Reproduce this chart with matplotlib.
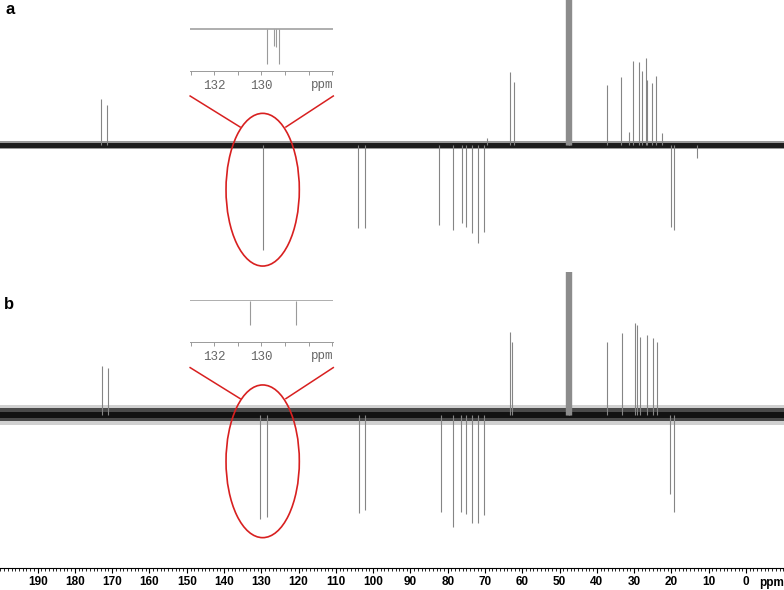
import matplotlib
matplotlib.use("Agg")

import matplotlib.pyplot as plt
from matplotlib.patches import Ellipse
from matplotlib.ticker import MultipleLocator

# ---- data (ppm, signed height in px above baseline) ----
a_ppm = [172.9, 171.3, 129.5, 104.0, 102.2, 82.3, 78.7, 76.2, 75.2, 73.5,
         72.0, 70.2, 69.4, 63.4, 62.3, 37.4, 33.5, 31.5, 30.2, 28.7,
         28.0, 26.9, 26.6, 25.1, 24.1, 22.4, 20.2, 19.3, 13.1]
a_int = [45.7, 40.3, -105.0, -83.3, -82.7, -80.0, -85.0, -77.7, -81.7, -88.0,
         -98.0, -86.7, 7.0, 73.3, 63.3, 60.0, 68.3, 13.3, 84.3, 82.7,
         74.3, 86.7, 65.0, 62.0, 69.3, 12.0, -81.7, -85.0, -13.0]

b_ppm = [172.8, 171.2, 130.4, 128.6, 103.7, 102.1, 81.8, 78.7, 76.4, 75.2,
         73.5, 72.0, 70.4, 63.4, 62.8, 37.2, 33.2, 29.8, 29.2, 28.4,
         26.6, 25.0, 24.0, 20.4, 19.3]
b_int = [49.0, 46.7, -104.3, -102.3, -97.7, -95.0, -96.7, -112.0, -96.7, -99.0,
         -108.0, -108.0, -100.0, 82.7, 72.7, 73.3, 81.7, 91.7, 90.0, 77.7,
         80.0, 76.7, 72.7, -79.0, -96.7]

# CD3OD septet, clipped in both traces
solvent_ppm = [47.0, 47.2, 47.4, 47.6, 47.8, 48.0, 48.2]
solvent_int = [150, 160, 170, 175, 170, 160, 150]

# baseline noise half-widths (px)
a_noise = [(4.0, "#9a9a9a"), (2.5, "#1c1c1c")]
b_noise = [(10.0, "#d0d0d0"), (6.5, "#4a4a4a"), (3.0, "#121212")]

# zoomed insets around 130 ppm
inset_a_ppm = [129.76, 129.48, 129.39, 129.26]
inset_a_depth = [34.7, 16.7, 17.4, 34.7]
inset_b_ppm = [130.47, 128.54]
inset_b_depth = [24.3, 24.3]

# ---- layout ----
W, H = 784, 590
PPM_LEFT, PPM_RIGHT = 200.1, -10.2
PEAK_GRAY = "#858585"
RED = "#d82020"
SCALE_FONT = ["Liberation Sans Narrow", "Liberation Sans", "DejaVu Sans"]
MONO_FONT = ["Liberation Mono", "DejaVu Sans Mono"]


def box(left, top, right, bottom):
    return [left / W, 1 - bottom / H, (right - left) / W, (bottom - top) / H]


def draw_spectrum(ax, ppm, inten, noise):
    for half, color in noise:
        ax.axhspan(-half, half, color=color, lw=0)
    ax.vlines(ppm, 0, inten, colors=PEAK_GRAY, lw=0.8)
    ax.vlines(solvent_ppm, 0, solvent_int, colors="#8c8c8c", lw=1.0)
    ax.set_xlim(PPM_LEFT, PPM_RIGHT)
    ax.axis("off")


def draw_zoom_marker(ax, y_center):
    ax.add_patch(Ellipse((129.64, y_center), 19.66, 152.7, fill=False,
                         ec=RED, lw=1.2, clip_on=False))
    ax.plot([149.1, 135.7], [47.7 + y_center + 46.0, 16.7 + y_center + 46.0],
            color=RED, lw=1.1, clip_on=False)
    ax.plot([110.7, 123.4], [47.7 + y_center + 46.0, 16.7 + y_center + 46.0],
            color=RED, lw=1.1, clip_on=False)


def draw_inset(ax, ppm, depth):
    ax.axhspan(-0.9, 0.9, color="#b0b0b0", lw=0)
    ax.vlines(ppm, 0, [-d for d in depth], colors="#9a9a9a", lw=0.8)
    ax.set_xlim(133.03, 126.95)
    ax.set_ylim(-41.4, 14.3)
    for side in ["top", "left", "right"]:
        ax.spines[side].set_visible(False)
    ax.spines["bottom"].set_color("#9a9a9a")
    ax.spines["bottom"].set_linewidth(0.7)
    ax.set_yticks([])
    ax.set_xticks([132, 130, 128])
    ax.set_xticklabels(["132", "130", ""], family=MONO_FONT, fontsize=9,
                       color="#666666")
    ax.set_xticks([133, 131, 129, 127], minor=True)
    ax.tick_params(axis="x", which="both", direction="out", length=3,
                   width=0.7, color="#9a9a9a", pad=4)
    ax.text(127.42, -0.26, "ppm", transform=ax.get_xaxis_transform(),
            ha="center", va="center", family=MONO_FONT, fontsize=9,
            color="#666666")
    ax.patch.set_alpha(0)


fig = plt.figure(figsize=(W / 100, H / 100), dpi=100)

ax_a = fig.add_axes(box(0, 0, W, 290))
ax_a.set_ylim(-145, 145)
draw_spectrum(ax_a, a_ppm, a_int, a_noise)
draw_zoom_marker(ax_a, -44.7)

ax_b = fig.add_axes(box(0, 272, W, 558))
ax_b.set_ylim(-143, 143)
draw_spectrum(ax_b, b_ppm, b_int, b_noise)
draw_zoom_marker(ax_b, -46.3)

ax_ia = fig.add_axes(box(190, 15, 333.3, 70.7))
draw_inset(ax_ia, inset_a_ppm, inset_a_depth)

ax_ib = fig.add_axes(box(190, 286.4, 333.3, 341.7))
draw_inset(ax_ib, inset_b_ppm, inset_b_depth)

# ppm scale at the bottom
ax_s = fig.add_axes(box(0, 540, W, 568))
ax_s.patch.set_alpha(0)
for side in ["top", "left", "right"]:
    ax_s.spines[side].set_visible(False)
ax_s.spines["bottom"].set_linewidth(0.8)
ax_s.set_xlim(PPM_LEFT, PPM_RIGHT)
ax_s.set_yticks([])
ax_s.set_xticks(range(0, 200, 10))
ax_s.set_xticklabels([str(v) for v in range(0, 200, 10)], family=SCALE_FONT,
                     fontsize=8.5, fontweight="bold")
ax_s.xaxis.set_minor_locator(MultipleLocator(1))
ax_s.tick_params(axis="x", which="major", direction="out", length=3.6,
                 width=0.8, pad=2)
ax_s.tick_params(axis="x", which="minor", direction="out", length=1.8,
                 width=0.6)
ax_s.text(-7.0, -0.54, "ppm", transform=ax_s.get_xaxis_transform(),
          ha="center", va="center", family=SCALE_FONT, fontsize=8.5,
          fontweight="bold")

fig.text(5 / W, 1 - 14 / H, "a", family=["Liberation Sans", "DejaVu Sans"],
         fontsize=12, fontweight="bold", ha="left", va="baseline")
fig.text(4 / W, 1 - 309 / H, "b", family=["Liberation Sans", "DejaVu Sans"],
         fontsize=12, fontweight="bold", ha="left", va="baseline")

fig.savefig("out.png", dpi=100)
